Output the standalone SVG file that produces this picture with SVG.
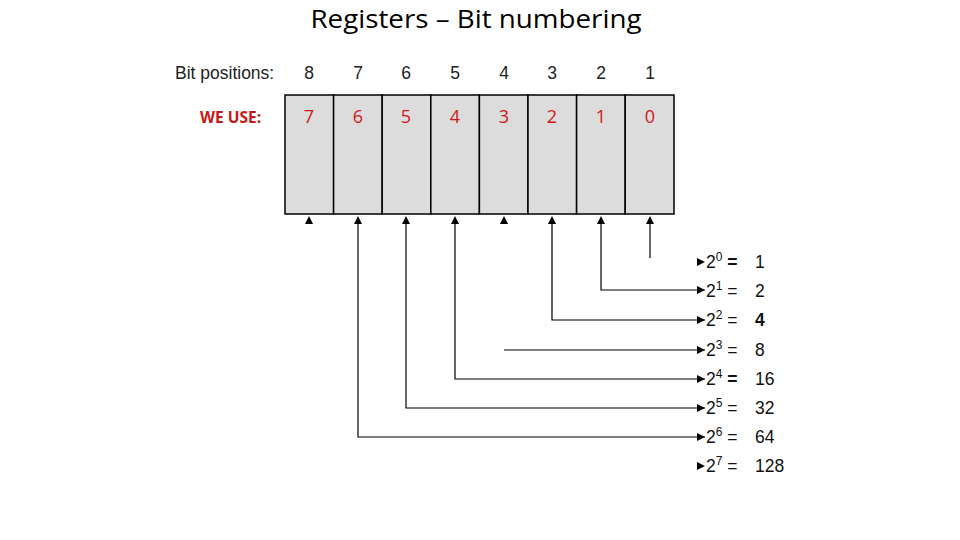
<svg xmlns="http://www.w3.org/2000/svg" width="960" height="540" viewBox="0 0 960 540">
<defs>
<style>
.title{font-family:"Open Sans","Liberation Sans",sans-serif;font-size:26px;fill:#000}
.pos{font-family:"Liberation Sans",Arial,sans-serif;font-size:17.5px;fill:#222}
.use{font-family:"Open Sans","Liberation Sans",sans-serif;font-size:18px;fill:#d01818;text-anchor:middle}
.lbl{font-family:"Open Sans","Liberation Sans",sans-serif;font-size:15.5px;font-weight:bold;fill:#c81818}
.eq{font-family:"Liberation Sans",Arial,sans-serif;font-size:17.5px;fill:#111}
.sup{font-size:12px}
.cell{fill:#dcdcdc;stroke:#000;stroke-width:1.5}
.ln{fill:none;stroke:#000;stroke-width:1.2}
.up{fill:#000}
</style>
<marker id="ah" markerWidth="8" markerHeight="8" refX="8" refY="4" orient="auto" markerUnits="userSpaceOnUse">
<path d="M0,0 L8,4 L0,8 Z" fill="#000"/>
</marker>
</defs>
<rect width="960" height="540" fill="#fff"/>
<text class="title" x="476" y="28" text-anchor="middle" textLength="331" lengthAdjust="spacingAndGlyphs">Registers – Bit numbering</text>

<g id="bitpositions">
<text class="pos" x="175" y="79">Bit positions:</text>
<text class="pos" x="309" y="79" text-anchor="middle">8</text>
<text class="pos" x="358" y="79" text-anchor="middle">7</text>
<text class="pos" x="406" y="79" text-anchor="middle">6</text>
<text class="pos" x="455" y="79" text-anchor="middle">5</text>
<text class="pos" x="504" y="79" text-anchor="middle">4</text>
<text class="pos" x="552" y="79" text-anchor="middle">3</text>
<text class="pos" x="601" y="79" text-anchor="middle">2</text>
<text class="pos" x="650" y="79" text-anchor="middle">1</text>
</g>
<text class="lbl" x="200" y="123">WE USE:</text>

<g id="register">
<g id="cell7"><rect class="cell" x="285" y="95" width="48.6" height="119"/><text class="use" x="309" y="123">7</text></g>
<g id="cell6"><rect class="cell" x="333.6" y="95" width="48.6" height="119"/><text class="use" x="358" y="123">6</text></g>
<g id="cell5"><rect class="cell" x="382.2" y="95" width="48.6" height="119"/><text class="use" x="406" y="123">5</text></g>
<g id="cell4"><rect class="cell" x="430.8" y="95" width="48.6" height="119"/><text class="use" x="455" y="123">4</text></g>
<g id="cell3"><rect class="cell" x="479.4" y="95" width="48.6" height="119"/><text class="use" x="504" y="123">3</text></g>
<g id="cell2"><rect class="cell" x="528" y="95" width="48.6" height="119"/><text class="use" x="552" y="123">2</text></g>
<g id="cell1"><rect class="cell" x="576.6" y="95" width="48.6" height="119"/><text class="use" x="601" y="123">1</text></g>
<g id="cell0"><rect class="cell" x="625.2" y="95" width="48.8" height="119"/><text class="use" x="650" y="123">0</text></g>
</g>

<g id="connectors">
<path class="up" d="M305,224 L309,216 L313,224 Z"/>
<path class="up" d="M354,224 L358,216 L362,224 Z"/>
<path class="up" d="M402,224 L406,216 L410,224 Z"/>
<path class="up" d="M451,224 L455,216 L459,224 Z"/>
<path class="up" d="M500,224 L504,216 L508,224 Z"/>
<path class="up" d="M548,224 L552,216 L556,224 Z"/>
<path class="up" d="M597,224 L601,216 L605,224 Z"/>
<path class="up" d="M646,224 L650,216 L654,224 Z"/>
<path class="ln" d="M650,258 V222"/>
<path class="ln" d="M601,222 V290 H705" marker-end="url(#ah)"/>
<path class="ln" d="M552,222 V320 H705" marker-end="url(#ah)"/>
<path class="ln" d="M504,350 H705" marker-end="url(#ah)"/>
<path class="ln" d="M455,222 V379 H705" marker-end="url(#ah)"/>
<path class="ln" d="M406,222 V408 H705" marker-end="url(#ah)"/>
<path class="ln" d="M358,222 V437 H705" marker-end="url(#ah)"/>
<path class="up" d="M697,258 L705,262 L697,266 Z"/>
<path class="up" d="M697,462 L705,466 L697,470 Z"/>
</g>

<g id="powers">
<g id="p0"><text class="eq" x="706" y="268">2<tspan class="sup" dy="-7">0</tspan><tspan dy="7" font-weight="bold"> = </tspan></text><text class="eq" x="755" y="268">1</text></g>
<g id="p1"><text class="eq" x="706" y="297">2<tspan class="sup" dy="-7">1</tspan><tspan dy="7"> = </tspan></text><text class="eq" x="755" y="297">2</text></g>
<g id="p2"><text class="eq" x="706" y="326">2<tspan class="sup" dy="-7">2</tspan><tspan dy="7"> = </tspan></text><text class="eq" x="755" y="326" font-weight="bold">4</text></g>
<g id="p3"><text class="eq" x="706" y="356">2<tspan class="sup" dy="-7">3</tspan><tspan dy="7"> = </tspan></text><text class="eq" x="755" y="356">8</text></g>
<g id="p4"><text class="eq" x="706" y="385">2<tspan class="sup" dy="-7">4</tspan><tspan dy="7" font-weight="bold"> = </tspan></text><text class="eq" x="755" y="385">16</text></g>
<g id="p5"><text class="eq" x="706" y="414">2<tspan class="sup" dy="-7">5</tspan><tspan dy="7"> = </tspan></text><text class="eq" x="755" y="414">32</text></g>
<g id="p6"><text class="eq" x="706" y="443">2<tspan class="sup" dy="-7">6</tspan><tspan dy="7"> = </tspan></text><text class="eq" x="755" y="443">64</text></g>
<g id="p7"><text class="eq" x="706" y="472">2<tspan class="sup" dy="-7">7</tspan><tspan dy="7"> = </tspan></text><text class="eq" x="755" y="472">128</text></g>
</g>
</svg>
